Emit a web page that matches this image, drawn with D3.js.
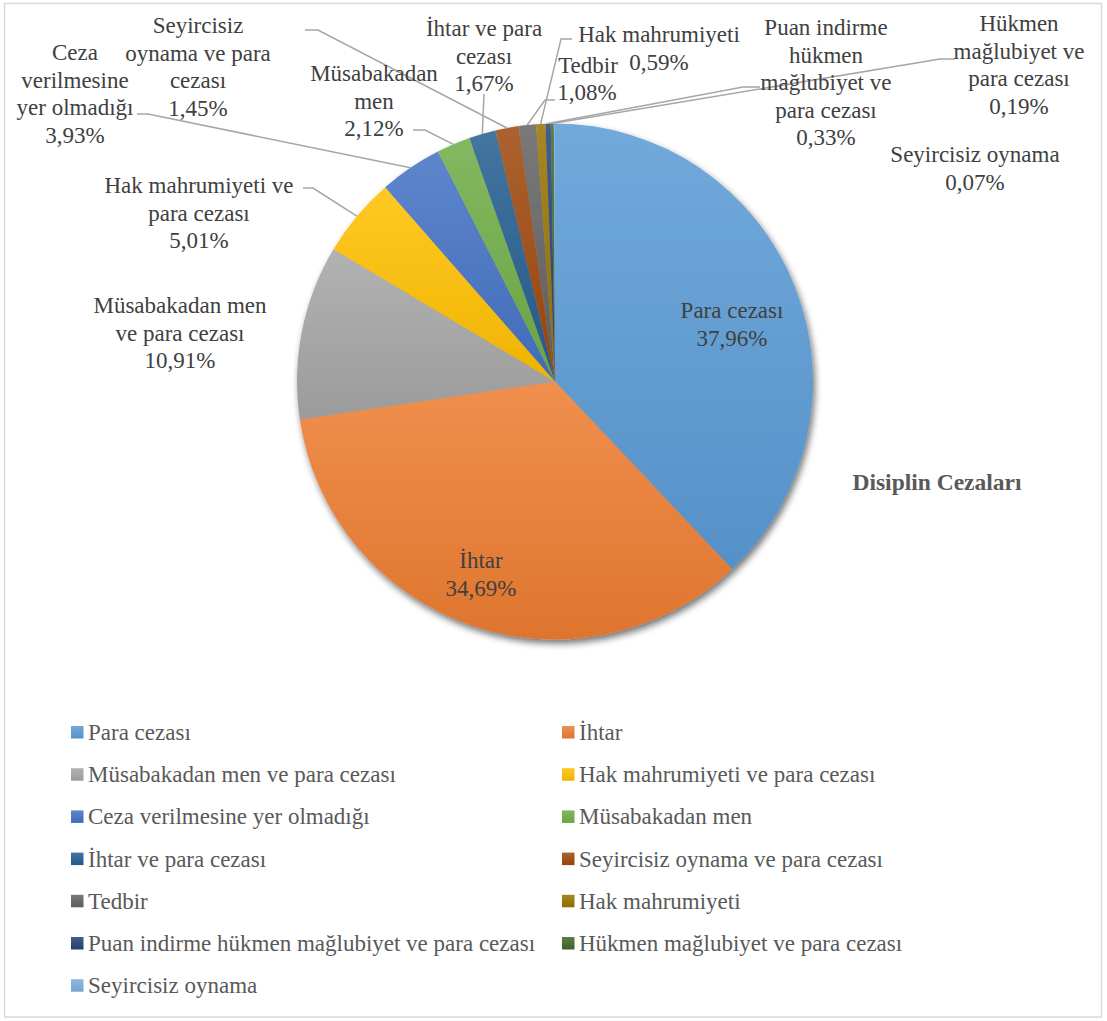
<!DOCTYPE html>
<html>
<head>
<meta charset="utf-8">
<script src="https://cdn.jsdelivr.net/npm/d3@7/dist/d3.min.js"></script>
<style>
  html, body { margin: 0; padding: 0; background: #fff; }
  svg { display: block; }
</style>
</head>
<body>
<svg id="chart" width="1107" height="1021" font-family="'Liberation Serif', Tinos, 'Times New Roman', 'DejaVu Serif', serif"></svg>
<script>
// ---------------- DATA ----------------
const categories = [
  "Para cezası",
  "İhtar",
  "Müsabakadan men ve para cezası",
  "Hak mahrumiyeti ve para cezası",
  "Ceza verilmesine yer olmadığı",
  "Müsabakadan men",
  "İhtar ve para cezası",
  "Seyircisiz oynama ve para cezası",
  "Tedbir",
  "Hak mahrumiyeti",
  "Puan indirme hükmen mağlubiyet ve para cezası",
  "Hükmen mağlubiyet ve para cezası",
  "Seyircisiz oynama"
];
const values = [37.96, 34.69, 10.91, 5.01, 3.93, 2.12, 1.67, 1.45, 1.08, 0.59, 0.33, 0.19, 0.07];
const valueLabels = ["37,96%", "34,69%", "10,91%", "5,01%", "3,93%", "2,12%", "1,67%", "1,45%", "1,08%", "0,59%", "0,33%", "0,19%", "0,07%"];
// wrapped label text as shown in the chart (category part)
const labelLines = [
  ["Para cezası"],
  ["İhtar"],
  ["Müsabakadan men", "ve para cezası"],
  ["Hak mahrumiyeti ve", "para cezası"],
  ["Ceza", "verilmesine", "yer olmadığı"],
  ["Müsabakadan", "men"],
  ["İhtar ve para", "cezası"],
  ["Seyircisiz", "oynama ve para", "cezası"],
  ["Tedbir"],
  ["Hak mahrumiyeti"],
  ["Puan indirme", "hükmen", "mağlubiyet ve", "para cezası"],
  ["Hükmen", "mağlubiyet ve", "para cezası"],
  ["Seyircisiz oynama"]
];
const chartTitle = "Disiplin Cezaları";
const colors = ["#5B9BD5", "#ED7D31", "#A5A5A5", "#FFC000", "#4472C4", "#70AD47",
                "#255E91", "#9E480E", "#636363", "#997300", "#264478", "#43682B", "#7CAFDD"];

// ---------------- LAYOUT ----------------
const W = 1107, H = 1021;
const cx = 555, cy = 381.5, R = 258;
const lineH = 27.5;
const fontSize = 23;
const labelPos = [
  [732, 318], [481, 568], [180, 313], [199, 193], [75, 60], [374, 81], [484, 36],
  [198, 33], [588, 73], [659, 42], [826, 35], [1019, 31], [975, 162]
];
const pctPos = {8: [587, 100], 9: [659, 70]};
const leaders = [
  null, null, null,
  [303, 188, 313, 188],
  [137, 114, 148, 114],
  [413, 130, 425, 130],
  [484, 94, 484, 94],
  [305, 30, 318, 30],
  [555, 100, 545, 100],
  [572, 39, 561, 39],
  [760, 87, 743, 87],
  [955, 59, 940, 59],
  null
];

const svg = d3.select("#chart");
const defs = svg.append("defs");

svg.append("rect").attr("x", 4.5).attr("y", 3.5).attr("width", 1097).attr("height", 1013.5)
  .attr("fill", "#fff").attr("stroke", "#D9D9D9").attr("stroke-width", 1.5);

colors.forEach((c, i) => {
  const g = defs.append("linearGradient").attr("id", "g" + i)
    .attr("x1", 0).attr("y1", 0).attr("x2", 0).attr("y2", 1);
  g.append("stop").attr("offset", "0%").attr("stop-color", d3.interpolateRgb(c, "#fff")(0.14));
  g.append("stop").attr("offset", "100%").attr("stop-color", d3.color(c).darker(0.18).formatHex());
});

const f = defs.append("filter").attr("id", "shadow").attr("x", "-10%").attr("y", "-10%").attr("width", "120%").attr("height", "120%");
f.append("feGaussianBlur").attr("in", "SourceAlpha").attr("stdDeviation", 3.5).attr("result", "b");
f.append("feOffset").attr("in", "b").attr("dx", 2).attr("dy", 4).attr("result", "o");
f.append("feComponentTransfer").attr("in", "o").attr("result", "o2")
  .append("feFuncA").attr("type", "linear").attr("slope", 0.55);
const m = f.append("feMerge");
m.append("feMergeNode").attr("in", "o2");
m.append("feMergeNode").attr("in", "SourceGraphic");

const data = categories.map((c, i) => ({ name: c, value: values[i], i }));
const pie = d3.pie().value(d => d.value).sort(null).startAngle(0).endAngle(2 * Math.PI);
const arcs = pie(data);
const arc = d3.arc().innerRadius(0).outerRadius(R);

const pieG = svg.append("g").attr("transform", `translate(${cx},${cy})`);
const slicesG = pieG.append("g").attr("filter", "url(#shadow)");
slicesG.selectAll("path").data(arcs).join("path")
  .attr("d", arc)
  .attr("fill", d => `url(#g${d.data.i})`);

const leaderG = svg.append("g");
arcs.forEach((a, i) => {
  const L = leaders[i];
  if (!L) return;
  const mid = (a.startAngle + a.endAngle) / 2;
  const ex = cx + R * Math.sin(mid), ey = cy - R * Math.cos(mid);
  leaderG.append("polyline")
    .attr("points", `${L[0]},${L[1]} ${L[2]},${L[3]} ${ex},${ey}`)
    .attr("fill", "none").attr("stroke", "#A6A6A6").attr("stroke-width", 1.5);
});

const labG = svg.append("g").attr("fill", "#404040").attr("font-size", fontSize).attr("text-anchor", "middle");
arcs.forEach((a, i) => {
  const [x, y] = labelPos[i];
  let lines = labelLines[i].slice();
  if (!pctPos[i]) lines.push(valueLabels[i]);
  lines.forEach((t, k) => {
    labG.append("text").attr("x", x).attr("y", y + k * lineH).text(t);
  });
  if (pctPos[i]) {
    labG.append("text").attr("x", pctPos[i][0]).attr("y", pctPos[i][1]).text(valueLabels[i]);
  }
});

svg.append("text").attr("x", 937).attr("y", 490).attr("text-anchor", "middle")
  .attr("font-size", 23.5).attr("font-weight", "bold").attr("fill", "#595959").text(chartTitle);

const legG = svg.append("g");
const colX = [71, 562], rowY0 = 732, rowH = 42.2;
data.forEach((d, i) => {
  const col = i % 2, row = Math.floor(i / 2);
  const x = colX[col], y = rowY0 + row * rowH;
  legG.append("rect").attr("x", x).attr("y", y - 6).attr("width", 12.5).attr("height", 12.5)
    .attr("fill", `url(#g${i})`);
  legG.append("text").attr("x", x + 17).attr("y", y + 8).attr("font-size", fontSize)
    .attr("fill", "#595959").text(d.name);
});
</script>
</body>
</html>
